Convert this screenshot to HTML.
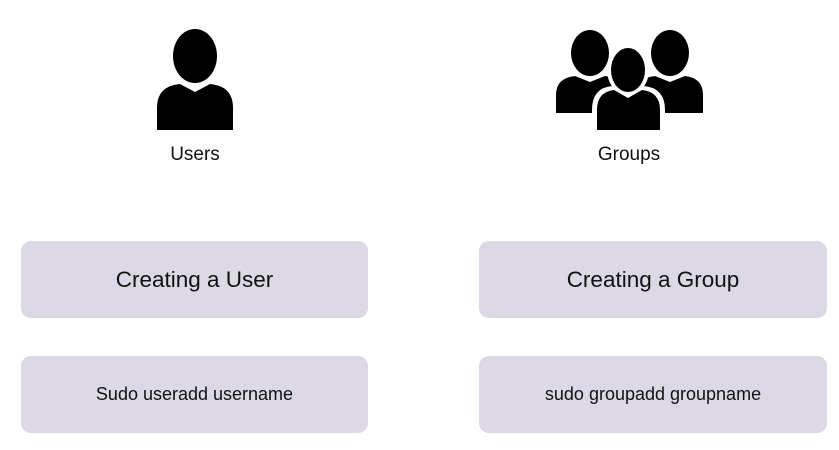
<!DOCTYPE html>
<html><head><style>
body{margin:0;width:839px;height:450px;background:#fff;position:relative;overflow:hidden;font-family:"Liberation Sans",Arial,sans-serif;color:#111}
.b{position:absolute;background:#dcd8e6;border-radius:10px;display:flex;align-items:center;justify-content:center}
.t{position:absolute;font-size:19px;text-align:center}
</style></head><body>
<svg width="839" height="450" style="position:absolute;left:0;top:0">
<ellipse cx="195" cy="56" rx="22" ry="27" fill="#000"/>
<path d="M157 130 L157 108 Q157 86 180 84 L195 92 L210 84 Q233 86 233 108 L233 130 Z" fill="#000"/>
<ellipse cx="590" cy="53" rx="19" ry="23" fill="#000"/>
<path d="M556 113 L556 95 Q556 78 575 76 L590 82 L605 76 Q624 78 624 95 L624 113 Z" fill="#000"/>
<ellipse cx="670" cy="53" rx="19" ry="23" fill="#000"/>
<path d="M636 113 L636 95 Q636 78 655 76 L670 82 L685 76 Q703 78 703 95 L703 113 Z" fill="#000"/>
<ellipse cx="628" cy="70" rx="21" ry="25" fill="#fff"/>
<path d="M592 134 L592 110 Q592 88 612 86 L628 94 L644 86 Q665 88 665 110 L665 134 Z" fill="#fff"/>
<ellipse cx="628" cy="70" rx="17" ry="22" fill="#000"/>
<path d="M597 130 L597 110 Q597 92 614 90 L628 98 L642 90 Q660 92 660 110 L660 130 Z" fill="#000"/>
</svg>
<div class="t" style="left:145px;top:144px;width:100px">Users</div>
<div class="t" style="left:579px;top:144px;width:100px">Groups</div>
<div class="b" style="left:21px;top:241px;width:347px;height:77px;font-size:22.5px">Creating a User</div>
<div class="b" style="left:479px;top:241px;width:348px;height:77px;font-size:22.5px">Creating a Group</div>
<div class="b" style="left:21px;top:356px;width:347px;height:77px;font-size:18px">Sudo useradd username</div>
<div class="b" style="left:479px;top:356px;width:348px;height:77px;font-size:18px">sudo groupadd groupname</div>
</body></html>
